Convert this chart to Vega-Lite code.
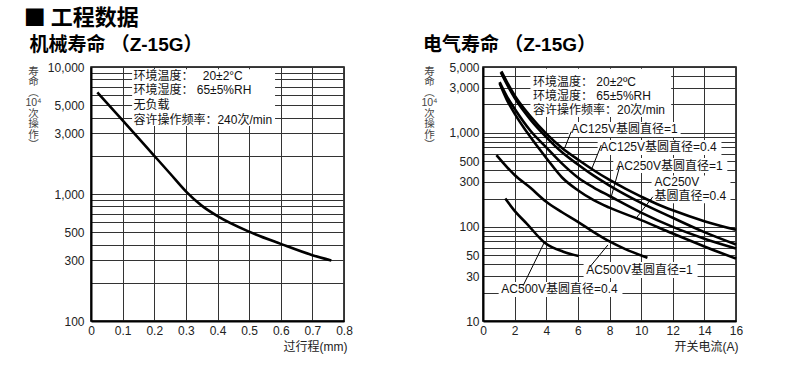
{
  "$schema": "https://vega.github.io/schema/vega-lite/v6.json",
  "padding": {"left": 23, "top": 7, "right": 5, "bottom": 5},
  "background": "white",
  "title": {"text": "■ 工程数据", "anchor": "start", "frame": "bounds", "font": "Noto Sans CJK SC", "fontSize": 22, "fontWeight": "bold", "color": "#000", "offset": 5, "dx": -0.5},
  "datasets": {
    "mech": [
      {"x": 0.02, "y": 6300}, {"x": 0.1, "y": 3800}, {"x": 0.2, "y": 2000}, {"x": 0.25, "y": 1450},
      {"x": 0.3, "y": 1050}, {"x": 0.35, "y": 810}, {"x": 0.4, "y": 670}, {"x": 0.5, "y": 505},
      {"x": 0.6, "y": 405}, {"x": 0.7, "y": 330}, {"x": 0.76, "y": 300}
    ],
    "notesL": [
      {"x": 0.134, "y": 8571, "label": "环境温度：　 20±2°C"},
      {"x": 0.134, "y": 6531, "label": "环境湿度：  65±5%RH"},
      {"x": 0.134, "y": 5020, "label": "无负载"},
      {"x": 0.134, "y": 3826, "label": "容许操作频率：240次/min"}
    ],
    "boxesL": [{"x": 0.13, "x2": 0.582, "y": 9600, "y2": 3430}],
    "elec": [
      {"s": "AC125V=1", "x": 1.16, "y": 4500}, {"s": "AC125V=1", "x": 1.5, "y": 3500}, {"s": "AC125V=1", "x": 2, "y": 2500},
      {"s": "AC125V=1", "x": 3, "y": 1500}, {"s": "AC125V=1", "x": 4, "y": 980}, {"s": "AC125V=1", "x": 5, "y": 690},
      {"s": "AC125V=1", "x": 6, "y": 520}, {"s": "AC125V=1", "x": 7, "y": 400}, {"s": "AC125V=1", "x": 8, "y": 315},
      {"s": "AC125V=1", "x": 9, "y": 255}, {"s": "AC125V=1", "x": 10, "y": 210}, {"s": "AC125V=1", "x": 11, "y": 175},
      {"s": "AC125V=1", "x": 12, "y": 150}, {"s": "AC125V=1", "x": 14, "y": 115}, {"s": "AC125V=1", "x": 16, "y": 93},
      {"s": "AC125V=0.4", "x": 1.12, "y": 4400}, {"s": "AC125V=0.4", "x": 1.5, "y": 3300}, {"s": "AC125V=0.4", "x": 2, "y": 2350},
      {"s": "AC125V=0.4", "x": 3, "y": 1380}, {"s": "AC125V=0.4", "x": 4, "y": 900}, {"s": "AC125V=0.4", "x": 5, "y": 620},
      {"s": "AC125V=0.4", "x": 6, "y": 460}, {"s": "AC125V=0.4", "x": 7, "y": 350}, {"s": "AC125V=0.4", "x": 8, "y": 275},
      {"s": "AC125V=0.4", "x": 10, "y": 180}, {"s": "AC125V=0.4", "x": 12, "y": 125}, {"s": "AC125V=0.4", "x": 14, "y": 88},
      {"s": "AC125V=0.4", "x": 16, "y": 65},
      {"s": "AC250V=1", "x": 1.05, "y": 3450}, {"s": "AC250V=1", "x": 1.5, "y": 2450}, {"s": "AC250V=1", "x": 2, "y": 1800},
      {"s": "AC250V=1", "x": 3, "y": 1050}, {"s": "AC250V=1", "x": 4, "y": 700}, {"s": "AC250V=1", "x": 5, "y": 470},
      {"s": "AC250V=1", "x": 6, "y": 335}, {"s": "AC250V=1", "x": 7, "y": 262}, {"s": "AC250V=1", "x": 8, "y": 213},
      {"s": "AC250V=1", "x": 10, "y": 142}, {"s": "AC250V=1", "x": 12, "y": 100}, {"s": "AC250V=1", "x": 14, "y": 75},
      {"s": "AC250V=1", "x": 16, "y": 59},
      {"s": "AC250V=0.4", "x": 1.05, "y": 3350}, {"s": "AC250V=0.4", "x": 1.5, "y": 2250}, {"s": "AC250V=0.4", "x": 2, "y": 1600},
      {"s": "AC250V=0.4", "x": 3, "y": 900}, {"s": "AC250V=0.4", "x": 4, "y": 540}, {"s": "AC250V=0.4", "x": 5, "y": 335},
      {"s": "AC250V=0.4", "x": 6, "y": 245}, {"s": "AC250V=0.4", "x": 7, "y": 192}, {"s": "AC250V=0.4", "x": 8, "y": 160},
      {"s": "AC250V=0.4", "x": 10, "y": 118}, {"s": "AC250V=0.4", "x": 12, "y": 85}, {"s": "AC250V=0.4", "x": 14, "y": 62},
      {"s": "AC250V=0.4", "x": 16, "y": 46},
      {"s": "AC500V=1", "x": 0.85, "y": 580}, {"s": "AC500V=1", "x": 2, "y": 356}, {"s": "AC500V=1", "x": 3, "y": 260},
      {"s": "AC500V=1", "x": 4, "y": 185}, {"s": "AC500V=1", "x": 5, "y": 143}, {"s": "AC500V=1", "x": 6, "y": 113},
      {"s": "AC500V=1", "x": 7, "y": 88}, {"s": "AC500V=1", "x": 8, "y": 70}, {"s": "AC500V=1", "x": 9, "y": 58},
      {"s": "AC500V=1", "x": 10.4, "y": 47},
      {"s": "AC500V=0.4", "x": 1.41, "y": 200}, {"s": "AC500V=0.4", "x": 2, "y": 148}, {"s": "AC500V=0.4", "x": 2.75, "y": 109},
      {"s": "AC500V=0.4", "x": 3.9, "y": 68}, {"s": "AC500V=0.4", "x": 5.08, "y": 54.5}, {"s": "AC500V=0.4", "x": 6.05, "y": 49}
    ],
    "notesR": [
      {"x": 3.16, "y": 3491, "label": "环境温度： 20±2ºC"},
      {"x": 3.16, "y": 2478, "label": "环境湿度： 65±5%RH"},
      {"x": 3.16, "y": 1747, "label": "容许操作频率：20次/min"},
      {"x": 5.58, "y": 1089, "label": "AC125V基圆直径=1"},
      {"x": 7.42, "y": 702, "label": "AC125V基圆直径=0.4"},
      {"x": 8.43, "y": 449, "label": "AC250V基圆直径=1"},
      {"x": 10.85, "y": 298, "label": "AC250V"},
      {"x": 10.85, "y": 212, "label": "基圆直径=0.4"},
      {"x": 6.53, "y": 34.8, "label": "AC500V基圆直径=1"},
      {"x": 1.16, "y": 21.7, "label": "AC500V基圆直径=0.4"}
    ],
    "boxesR": [
      {"x": 3.0, "x2": 11.9, "y": 4800, "y2": 1472},
      {"x": 5.41, "x2": 12.5, "y": 1303, "y2": 902},
      {"x": 7.25, "x2": 15.08, "y": 837, "y2": 581},
      {"x": 8.24, "x2": 15.45, "y": 540, "y2": 374},
      {"x": 10.66, "x2": 15.65, "y": 352, "y2": 178},
      {"x": 6.36, "x2": 13.57, "y": 42.4, "y2": 28.6},
      {"x": 0.99, "x2": 8.82, "y": 25.9, "y2": 18.0}
    ],
    "leadersR": [
      {"x": 5.58, "y": 1028, "x2": 5.16, "y2": 684},
      {"x": 7.48, "y": 741, "x2": 6.85, "y2": 403},
      {"x": 8.64, "y": 437, "x2": 8.11, "y2": 209},
      {"x": 10.74, "y": 209, "x2": 9.69, "y2": 124},
      {"x": 6.74, "y": 37.2, "x2": 7.9, "y2": 64.3},
      {"x": 2.53, "y": 23.6, "x2": 3.9, "y2": 69.7}
    ]
  },
  "hconcat": [
    {
      "width": 253,
      "height": 254,
      "title": {"text": "机械寿命 （Z-15G）", "anchor": "start", "frame": "bounds", "font": "Liberation Sans, Noto Sans CJK SC", "fontSize": 19, "fontWeight": "bold", "color": "#000", "offset": 6, "dx": 4.5},
      "encoding": {
        "x": {"field": "x", "type": "quantitative", "scale": {"domain": [0, 0.8], "nice": false},
          "axis": {"values": [0, 0.1, 0.2, 0.3, 0.4, 0.5, 0.6, 0.7, 0.8], "format": ".1~f", "title": "过行程(mm)", "titleX": 256, "titleY": 25, "titleAlign": "right", "titleBaseline": "middle", "labelFlush": false, "labelOverlap": false, "labelPadding": 4}},
        "y": {"field": "y", "type": "quantitative", "scale": {"type": "log", "domain": [100, 10000], "nice": false},
          "axis": {"title": ["寿", "命", "︵", "10⁴", "次", "操", "作", "︶"], "titleAngle": 0, "titleAlign": "center", "titleBaseline": "top", "titleX": -58, "titleY": -1, "titleFontSize": 10.5, "titleLineHeight": 10.5, "titleColor": "#444",
            "labelExpr": "indexof(['100','300','500','1000','3000','5000','10000'], format(datum.value, '.0f')) >= 0 ? format(datum.value, ',') : ''", "labelOverlap": false, "labelPadding": 7}}
      },
      "layer": [
        {
          "data": {"name": "boxesL"},
          "mark": {"type": "rect", "fill": "white"},
          "encoding": {"x2": {"field": "x2"}, "y2": {"field": "y2"}}
        },
        {
          "data": {"name": "mech"},
          "mark": {"type": "line", "interpolate": "monotone", "color": "#000", "strokeWidth": 2.6},
          "encoding": {}
        },
        {
          "data": {"name": "notesL"},
          "mark": {"type": "text", "align": "left", "baseline": "middle", "font": "Liberation Sans, Noto Sans CJK SC", "fontSize": 12, "color": "#111"},
          "encoding": {"text": {"field": "label"}}
        }
      ]
    },
    {
      "width": 253,
      "height": 254,
      "title": {"text": "电气寿命 （Z-15G）", "anchor": "start", "frame": "bounds", "font": "Liberation Sans, Noto Sans CJK SC", "fontSize": 19, "fontWeight": "bold", "color": "#000", "offset": 6, "dx": 2},
      "encoding": {
        "x": {"field": "x", "type": "quantitative", "scale": {"domain": [0, 16], "nice": false},
          "axis": {"values": [0, 2, 4, 6, 8, 10, 12, 14, 16], "title": "开关电流(A)", "titleX": 255, "titleY": 25, "titleAlign": "right", "titleBaseline": "middle", "labelFlush": false, "labelOverlap": false, "labelPadding": 4}},
        "y": {"field": "y", "type": "quantitative", "scale": {"type": "log", "domain": [10, 5000], "nice": false},
          "axis": {"title": ["寿", "命", "︵", "10⁴", "次", "操", "作", "︶"], "titleAngle": 0, "titleAlign": "center", "titleBaseline": "top", "titleX": -54, "titleY": -1, "titleFontSize": 10.5, "titleLineHeight": 10.5, "titleColor": "#444",
            "labelExpr": "indexof(['10','30','50','100','300','500','1000','3000','5000'], format(datum.value, '.0f')) >= 0 ? format(datum.value, ',') : ''", "labelOverlap": false, "labelPadding": 4}}
      },
      "layer": [
        {
          "data": {"name": "boxesR"},
          "mark": {"type": "rect", "fill": "white"},
          "encoding": {"x2": {"field": "x2"}, "y2": {"field": "y2"}}
        },
        {
          "data": {"name": "elec"},
          "mark": {"type": "line", "interpolate": "monotone", "color": "#000", "strokeWidth": 2.6},
          "encoding": {"detail": {"field": "s"}}
        },
        {
          "data": {"name": "leadersR"},
          "mark": {"type": "rule", "color": "#000", "strokeWidth": 1},
          "encoding": {"x2": {"field": "x2"}, "y2": {"field": "y2"}}
        },
        {
          "data": {"name": "notesR"},
          "mark": {"type": "text", "align": "left", "baseline": "middle", "font": "Liberation Sans, Noto Sans CJK SC", "fontSize": 12, "color": "#111"},
          "encoding": {"text": {"field": "label"}}
        }
      ]
    }
  ],
  "spacing": 139,
  "bounds": "flush",
  "config": {
    "view": {"stroke": "#000", "strokeWidth": 1.5},
    "axis": {"grid": true, "gridColor": "#333", "gridWidth": 1, "gridOpacity": 1, "domainColor": "#000", "domainWidth": 2, "ticks": false,
      "labelFont": "Liberation Sans", "labelFontSize": 12, "labelColor": "#222",
      "titleFont": "Liberation Sans, Noto Sans CJK SC", "titleFontSize": 12, "titleFontWeight": "normal", "titleColor": "#222"}
  }
}
